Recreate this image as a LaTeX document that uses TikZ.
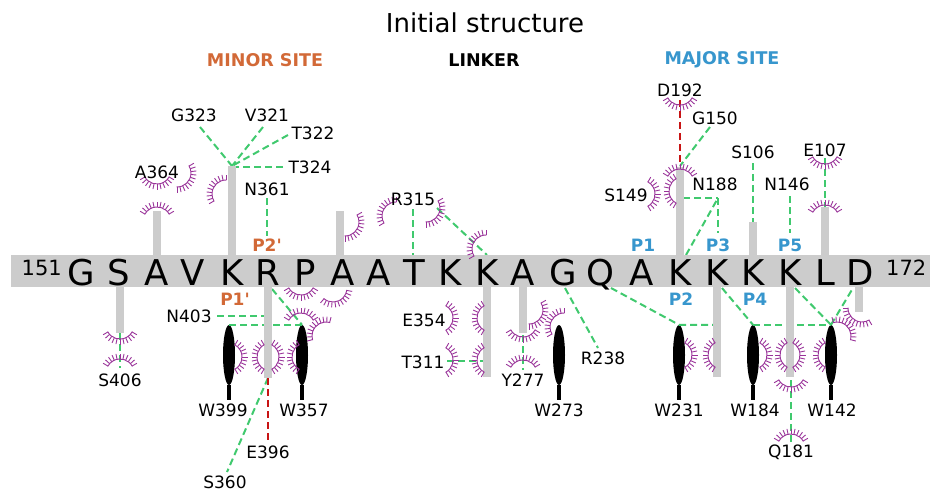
\documentclass[tikz,border=0pt]{standalone}
\usepackage{fontspec}
\setmainfont{DejaVu Sans}
\newfontfamily\plfont{DejaVu Sans}
\usetikzlibrary{shapes.geometric}
\definecolor{barc}{RGB}{204,204,204}
\definecolor{lashc}{RGB}{153,51,153}
\definecolor{hbc}{RGB}{64,201,110}
\definecolor{redc}{RGB}{200,20,20}
\definecolor{minorc}{RGB}{210,105,55}
\definecolor{majorc}{RGB}{55,150,205}
\tikzset{
 lbl/.style={font=\fontsize{17}{20}\selectfont, inner sep=0pt},
 plbl/.style={font=\plfont\bfseries\fontsize{17}{20}\selectfont, inner sep=0pt},
 res/.style={font=\fontsize{35.5}{40}\selectfont, anchor=base, inner sep=0pt},
 hb/.style={draw=hbc, line width=2pt, dash pattern=on 7pt off 4pt},
 ionb/.style={draw=redc, line width=2.4pt, dash pattern=on 7pt off 4pt},
 lashline/.style={draw=lashc, line width=0.9pt},
 trp/.style={ellipse, fill=black, minimum width=12pt, minimum height=60pt, inner sep=0pt},
}
\newcommand{\lash}[3]{%
  \begin{scope}[shift={(#1,-#2)}]
    \draw[lashline] ({#3-62}:14) arc[start angle={#3-62}, end angle={#3+62}, radius=14];
    \foreach \k in {0,...,10}{\draw[lashline] ({#3-60+12*\k}:14) -- ({#3-60+12*\k}:19.5);}
  \end{scope}}
\newcommand{\stickup}[2]{\fill[barc] (#1-4,-#2) rectangle (#1+4,-256);}
\newcommand{\stickdn}[2]{\fill[barc] (#1-4,-286) rectangle (#1+4,-#2);}
\newcommand{\trpstem}[1]{\draw[line width=3.5pt] (#1.south) -- ++(0,-15);}
\begin{document}
\begin{tikzpicture}[x=1pt,y=1pt]
\useasboundingbox (0,0) rectangle (930,-491);
% coordinates
\coordinate (k232t) at (232,-166);
\coordinate (cg323) at (200,-127);
\coordinate (cv321) at (263,-127);
\coordinate (ct322) at (288,-135);
\coordinate (ct324) at (283,-167);
\coordinate (k232s) at (234,-167);
\coordinate (cn361) at (267,-198);
\coordinate (r268b) at (267,-236);
\coordinate (cr315) at (413,-209);
\coordinate (t414b) at (413,-255);
\coordinate (cr315b) at (437,-208);
\coordinate (k487b) at (487,-255);
\coordinate (cn403) at (217,-316);
\coordinate (r268s) at (268,-316);
\coordinate (r268d) at (272,-289);
\coordinate (r268e) at (268,-378);
\coordinate (cs360) at (227,-472);
\coordinate (ce396) at (268,-443);
\coordinate (s119e) at (120,-333);
\coordinate (cs406) at (120,-368);
\coordinate (ct311) at (447,-361);
\coordinate (k487s) at (487,-361);
\coordinate (a523e) at (523,-335);
\coordinate (cy277) at (523,-370);
\coordinate (g563d) at (565,-288);
\coordinate (cr238) at (598,-348);
\coordinate (q600d) at (611,-288);
\coordinate (k717s) at (717,-325);
\coordinate (k717d) at (722,-288);
\coordinate (k790d) at (795,-288);
\coordinate (d860d) at (853,-288);
\coordinate (k790e) at (791,-380);
\coordinate (cq181) at (791,-442);
\coordinate (cd192) at (680,-100);
\coordinate (k680t) at (680,-166);
\coordinate (cg150) at (710,-127);
\coordinate (cs106) at (753,-163);
\coordinate (k753t) at (753,-222);
\coordinate (cn146) at (790,-196);
\coordinate (k790b) at (790,-233);
\coordinate (k680s) at (683,-198);
\coordinate (n188j) at (718,-198);
\coordinate (k717b) at (718,-233);
\coordinate (k680d) at (686,-255);
\coordinate (ce107) at (825,-158);
\coordinate (l825t) at (825,-207);
% tryptophan rings
\node[trp] (w399e) at (229,-355) {};
\node[trp] (w357e) at (302,-355) {};
\node[trp] (w273e) at (559,-355) {};
\node[trp] (w231e) at (679,-355) {};
\node[trp] (w184e) at (753,-355) {};
\node[trp] (w142e) at (831,-355) {};
\trpstem{w399e}\trpstem{w357e}\trpstem{w273e}\trpstem{w231e}\trpstem{w184e}\trpstem{w142e}
% bonds
\draw[hb] (cg323) -- (k232t);
\draw[hb] (cv321) -- (k232t);
\draw[hb] (ct322) -- (k232t);
\draw[hb] (ct324) -- (k232s);
\draw[hb] (cn361) -- (r268b);
\draw[hb] (cr315) -- (t414b);
\draw[hb] (cr315b) -- (k487b);
\draw[hb] (cn403) -- (r268s);
\draw[hb] (w399e.north) -- (w357e.north);
\draw[hb] (r268d) -- (w357e.north);
\draw[hb] (r268e) -- (cs360);
\draw[ionb] (r268e) -- (ce396);
\draw[hb] (s119e) -- (cs406);
\draw[hb] (ct311) -- (k487s);
\draw[hb] (a523e) -- (cy277);
\draw[hb] (g563d) -- (cr238);
\draw[hb] (q600d) -- (w231e.north);
\draw[hb] (w231e.north) -- (k717s);
\draw[hb] (k717d) -- (w184e.north);
\draw[hb] (w184e.north) -- (w142e.north);
\draw[hb] (k790d) -- (w142e.north);
\draw[hb] (w142e.north) -- (d860d);
\draw[hb] (k790e) -- (cq181);
\draw[ionb] (cd192) -- (k680t);
\draw[hb] (cg150) -- (k680t);
\draw[hb] (cs106) -- (k753t);
\draw[hb] (cn146) -- (k790b);
\draw[hb] (k680s) -- (n188j);
\draw[hb] (n188j) -- (k717b);
\draw[hb] (k680d) -- (n188j);
\draw[hb] (ce107) -- (l825t);
% backbone bar and side chains
\fill[barc] (11,-255) rectangle (930,-287);
\stickup{157}{211}
\stickup{232}{166}
\stickup{340}{211}
\stickup{680}{167}
\stickup{753}{222}
\stickup{825}{207}
\stickdn{120}{333}
\stickdn{268}{378}
\stickdn{487}{377}
\stickdn{523}{333}
\stickdn{717}{377}
\stickdn{790}{377}
\stickdn{859}{312}
% residues
\node[res] (r1) at (81,-285) {G};
\node[res] (r2) at (119,-285) {S};
\node[res] (r3) at (157,-285) {A};
\node[res] (r4) at (193,-285) {V};
\node[res] (r5) at (232,-285) {K};
\node[res] (r6) at (268,-285) {R};
\node[res] (r7) at (305,-285) {P};
\node[res] (r8) at (343,-285) {A};
\node[res] (r9) at (379,-285) {A};
\node[res] (r10) at (414,-285) {T};
\node[res] (r11) at (450,-285) {K};
\node[res] (r12) at (487,-285) {K};
\node[res] (r13) at (523,-285) {A};
\node[res] (r14) at (563,-285) {G};
\node[res] (r15) at (600,-285) {Q};
\node[res] (r16) at (642,-285) {A};
\node[res] (r17) at (680,-285) {K};
\node[res] (r18) at (717,-285) {K};
\node[res] (r19) at (753,-285) {K};
\node[res] (r20) at (790,-285) {K};
\node[res] (r21) at (825,-285) {L};
\node[res] (r22) at (860,-285) {D};
\node[font=\fontsize{21}{24}\selectfont, anchor=base east, inner sep=0pt] (n151) at (62,-275) {151};
\node[font=\fontsize{21}{24}\selectfont, anchor=base west, inner sep=0pt] (n172) at (886,-275) {172};
% hydrophobic contacts
\lash{157}{170}{270}
\lash{157}{221}{90}
\lash{177}{173}{330}
\lash{226}{194}{150}
\lash{345}{222}{330}
\lash{396}{216}{150}
\lash{426}{208}{330}
\lash{486}{249}{150}
\lash{439}{318}{0}
\lash{491}{318}{180}
\lash{439}{360}{0}
\lash{491}{360}{180}
\lash{523}{323}{270}
\lash{523}{374}{90}
\lash{529}{310}{330}
\lash{564}{327}{150}
\lash{301}{281}{270}
\lash{301}{327}{90}
\lash{333}{288}{290}
\lash{326}{336}{135}
\lash{228}{357}{0}
\lash{271}{357}{180}
\lash{265}{357}{0}
\lash{306}{357}{180}
\lash{120}{325}{270}
\lash{120}{373}{90}
\lash{680}{91}{270}
\lash{680}{183}{90}
\lash{683}{191}{180}
\lash{641}{194}{0}
\lash{825}{150}{270}
\lash{825}{219}{90}
\lash{678}{355}{0}
\lash{722}{355}{180}
\lash{753}{355}{0}
\lash{794}{355}{180}
\lash{786}{355}{0}
\lash{832}{355}{180}
\lash{791}{373}{270}
\lash{791}{448}{90}
\lash{837}{336}{45}
\lash{862}{308}{240}
% titles
\node[font=\fontsize{26}{30}\selectfont, inner sep=0pt] (title) at (485,-23) {Initial structure};
\node[font=\bfseries\fontsize{17.5}{20}\selectfont, text=minorc, inner sep=0pt] (minor) at (265,-60) {MINOR SITE};
\node[font=\bfseries\fontsize{17.5}{20}\selectfont, inner sep=0pt] (linker) at (484,-60) {LINKER};
\node[font=\bfseries\fontsize{17.5}{20}\selectfont, text=majorc, inner sep=0pt] (major) at (722,-60) {MAJOR SITE};
% labels
\node[lbl] (lg323) at (194,-115) {G323};
\node[lbl] (lv321) at (267,-115) {V321};
\node[lbl] (lt322) at (313,-133) {T322};
\node[lbl] (lt324) at (310,-167) {T324};
\node[lbl] (la364) at (157,-172) {A364};
\node[lbl] (ln361) at (267,-189) {N361};
\node[lbl] (ln403) at (189,-316) {N403};
\node[lbl] (lw399) at (223,-410) {W399};
\node[lbl] (lw357) at (304,-410) {W357};
\node[lbl] (le396) at (268,-452) {E396};
\node[lbl] (ls360) at (225,-482) {S360};
\node[lbl] (ls406) at (120,-380) {S406};
\node[lbl] (lr315) at (413,-199) {R315};
\node[lbl] (le354) at (424,-320) {E354};
\node[lbl] (lt311) at (423,-362) {T311};
\node[lbl] (ly277) at (523,-380) {Y277};
\node[lbl] (lw273) at (559,-410) {W273};
\node[lbl] (lr238) at (603,-358) {R238};
\node[lbl] (ld192) at (680,-90) {D192};
\node[lbl] (lg150) at (715,-118) {G150};
\node[lbl] (ls149) at (626,-195) {S149};
\node[lbl] (ln188) at (715,-184) {N188};
\node[lbl] (ls106) at (753,-152) {S106};
\node[lbl] (ln146) at (787,-184) {N146};
\node[lbl] (le107) at (825,-150) {E107};
\node[lbl] (lw231) at (679,-410) {W231};
\node[lbl] (lw184) at (755,-410) {W184};
\node[lbl] (lw142) at (832,-410) {W142};
\node[lbl] (lq181) at (791,-452) {Q181};
\node[plbl, text=minorc] (p2p) at (267,-245) {P2'};
\node[plbl, text=minorc] (p1p) at (235,-299) {P1'};
\node[plbl, text=majorc] (p1) at (643,-245) {P1};
\node[plbl, text=majorc] (p3) at (718,-245) {P3};
\node[plbl, text=majorc] (p5) at (790,-245) {P5};
\node[plbl, text=majorc] (p2) at (681,-299) {P2};
\node[plbl, text=majorc] (p4) at (755,-299) {P4};
\end{tikzpicture}
\end{document}
